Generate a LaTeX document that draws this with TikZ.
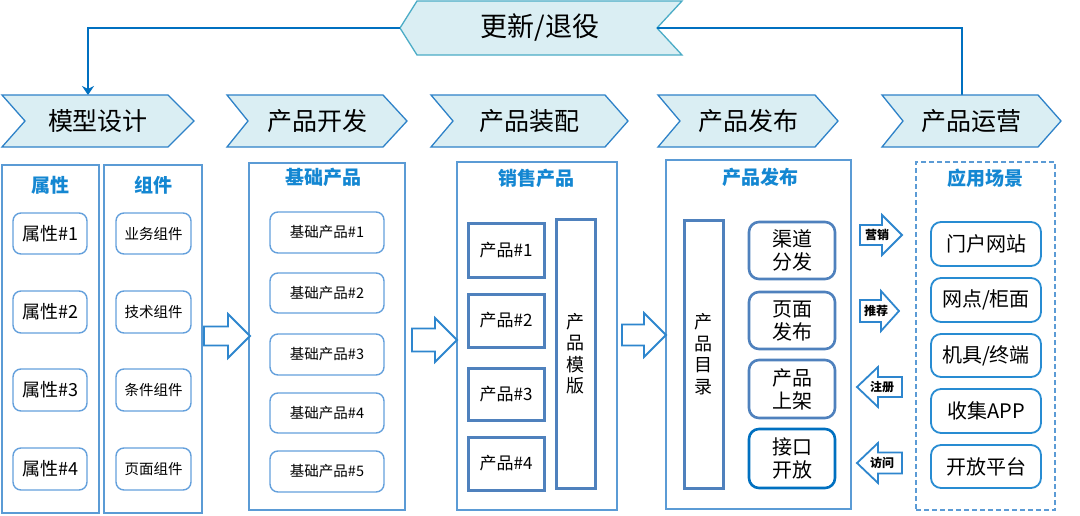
\documentclass[tikz,border=0pt]{standalone}
\usepackage{fontspec}
\setmainfont{Noto Sans CJK SC}
\usetikzlibrary{arrows.meta}
\definecolor{panelc}{RGB}{91,155,213}
\definecolor{itemc}{RGB}{100,160,220}
\definecolor{titlec}{RGB}{20,135,210}
\definecolor{thickc}{RGB}{79,129,189}
\definecolor{darkc}{RGB}{0,112,192}
\definecolor{appc}{RGB}{40,140,210}
\definecolor{chevfill}{RGB}{218,238,243}
\definecolor{chevline}{RGB}{46,130,200}
\definecolor{banline}{RGB}{75,172,198}
\definecolor{loopc}{RGB}{0,112,192}
\definecolor{arrc}{RGB}{46,134,206}
\tikzset{
  panel/.style={draw=panelc, line width=1.5pt, fill=white, inner sep=0pt},
  ttl/.style={text=titlec, font=\fontsize{19}{21}\selectfont\bfseries, inner sep=0pt},
  itembox/.style={draw=itemc, line width=1.4pt, rounded corners=8pt, fill=white, inner sep=0pt},
  thickbox/.style={draw=thickc, line width=3pt, fill=white, inner sep=0pt},
  pubbox/.style={draw=thickc, line width=2.6pt, rounded corners=10pt, fill=white, inner sep=0pt, align=center, font=\fontsize{20}{23}\selectfont},
  appbox/.style={draw=appc, line width=1.8pt, rounded corners=10pt, fill=white, inner sep=0pt, font=\fontsize{20}{22}\selectfont},
  chevst/.style={draw=chevline, line width=1.3pt, fill=chevfill},
  hdtxt/.style={font=\fontsize{25}{27}\selectfont, inner sep=0pt},
  barrow/.style={draw=arrc, line width=1.8pt, fill=white, line join=miter},
  smlbl/.style={font=\fontsize{12}{13}\selectfont\bfseries, inner sep=0pt},
  loopline/.style={draw=loopc, line width=2.6pt},
}
\newcommand\mychev[6]{%
  \draw[chevst] (#2,95) -- (#4,95) -- (#5,121) -- (#4,147) -- (#2,147) -- (#3,121) -- cycle;
  \node[hdtxt] (#1) at ({(#2+#5)/2},121) {#6};}
\newcommand\rarrow[6]{% x0 xs xt yc sh hh
  \draw[barrow] (#1,#4-#5) -- (#2,#4-#5) -- (#2,#4-#6) -- (#3,#4) -- (#2,#4+#6) -- (#2,#4+#5) -- (#1,#4+#5) -- cycle;}
\newcommand\larrow[6]{% xt xs x1 yc sh hh
  \draw[barrow] (#3,#4-#5) -- (#2,#4-#5) -- (#2,#4-#6) -- (#1,#4) -- (#2,#4+#6) -- (#2,#4+#5) -- (#3,#4+#5) -- cycle;}
\begin{document}
\begin{tikzpicture}[x=1pt,y=-1pt]
\useasboundingbox[fill=white] (0,0) rectangle (1080,515);

% feedback banner
\draw[draw=banline, line width=1.3pt, fill=chevfill] (400,28) -- (417,1) -- (682,1) -- (657,28) -- (682,55) -- (417,55) -- cycle;
\node[font=\fontsize{27}{29}\selectfont, inner sep=0pt] (bn) at (540,28) {更新/退役};
\coordinate (bnL) at (400,28);
\coordinate (bnR) at (657,28);
\coordinate (h1top) at (88,95);
\coordinate (h5top) at (962,95);
\draw[loopline, -{Stealth[length=9pt,width=12pt,inset=3pt]}] (bnL) -- (h1top |- bnL) -- (h1top);
\draw[loopline] (bnR) -- (h5top |- bnR) -- (h5top);

% header chevrons
\mychev{h1}{2}{25}{168}{194}{模型设计}
\mychev{h2}{227}{248}{383}{407}{产品开发}
\mychev{h3}{431}{453}{605}{628}{产品装配}
\mychev{h4}{658}{680}{815}{838}{产品发布}
\mychev{h5}{882}{903}{1038}{1061}{产品运营}

% panels
\node[panel, minimum width=97, minimum height=348] (p1) at (50.5,339) {};
\node[panel, minimum width=98, minimum height=348] (p2) at (153,339) {};
\node[panel, minimum width=156, minimum height=347] (p3) at (327,336.5) {};
\node[panel, minimum width=160, minimum height=348] (p4) at (537,336) {};
\node[panel, minimum width=185, minimum height=349] (p5) at (758.5,334.5) {};
\node[panel, dashed, dash pattern=on 5pt off 3pt, minimum width=139, minimum height=348] (p6) at (985.5,336) {};

\node[ttl] (t1) at (50,185) {属性};
\node[ttl] (t2) at (153,185) {组件};
\node[ttl] (t3) at (323,177) {基础产品};
\node[ttl] (t4) at (536,178) {销售产品};
\node[ttl] (t5) at (760,177) {产品发布};
\node[ttl] (t6) at (985,178) {应用场景};

% attributes
\begin{scope}[every node/.append style={font=\fontsize{18}{20}\selectfont}]
\node[itembox, minimum width=74, minimum height=41] (a1) at (50,233.5) {属性\#1};
\node[itembox, minimum width=74, minimum height=42] (a2) at (50,312) {属性\#2};
\node[itembox, minimum width=74, minimum height=42] (a3) at (50,390) {属性\#3};
\node[itembox, minimum width=74, minimum height=42] (a4) at (50,469) {属性\#4};
\end{scope}
\begin{scope}[every node/.append style={font=\fontsize{14.5}{16}\selectfont}]
\node[itembox, minimum width=75, minimum height=41] (c1) at (153.5,233.5) {业务组件};
\node[itembox, minimum width=75, minimum height=42] (c2) at (153.5,312) {技术组件};
\node[itembox, minimum width=75, minimum height=42] (c3) at (153.5,390) {条件组件};
\node[itembox, minimum width=75, minimum height=42] (c4) at (153.5,469) {页面组件};
\end{scope}

% base products
\begin{scope}[every node/.append style={font=\fontsize{14.5}{16}\selectfont}]
\node[itembox, minimum width=114, minimum height=41] (b1) at (327,232.5) {基础产品\#1};
\node[itembox, minimum width=114, minimum height=40] (b2) at (327,293) {基础产品\#2};
\node[itembox, minimum width=114, minimum height=41] (b3) at (327,354.5) {基础产品\#3};
\node[itembox, minimum width=114, minimum height=40] (b4) at (327,413) {基础产品\#4};
\node[itembox, minimum width=114, minimum height=41] (b5) at (327,471.5) {基础产品\#5};
\end{scope}

% sales products
\begin{scope}[every node/.append style={font=\fontsize{17}{19}\selectfont}]
\node[thickbox, minimum width=76, minimum height=54] (s1) at (506,250) {产品\#1};
\node[thickbox, minimum width=76, minimum height=53] (s2) at (506,320.5) {产品\#2};
\node[thickbox, minimum width=76, minimum height=52] (s3) at (506,394) {产品\#3};
\node[thickbox, minimum width=76, minimum height=53] (s4) at (506,463.5) {产品\#4};
\end{scope}
\node[thickbox, minimum width=39, minimum height=269, align=center, font=\fontsize{18}{21.5}\selectfont] (tpl) at (575.5,353.5) {产\\品\\模\\版};

% publish
\node[thickbox, minimum width=39, minimum height=268, align=center, font=\fontsize{18}{21.5}\selectfont] (cat) at (703.5,354) {产\\品\\目\\录};
\node[pubbox, minimum width=86, minimum height=57] (q1) at (792,250.5) {渠道\\分发};
\node[pubbox, minimum width=86, minimum height=57] (q2) at (792,320.5) {页面\\发布};
\node[pubbox, minimum width=86, minimum height=58] (q3) at (792,389) {产品\\上架};
\node[pubbox, draw=darkc, minimum width=86, minimum height=59] (q4) at (792,458.5) {接口\\开放};

% application scenarios
\node[appbox, minimum width=110, minimum height=44] (u1) at (986,244) {门户网站};
\node[appbox, minimum width=110, minimum height=44] (u2) at (986,300) {网点/柜面};
\node[appbox, minimum width=110, minimum height=43] (u3) at (986,355.5) {机具/终端};
\node[appbox, minimum width=110, minimum height=44] (u4) at (986,411) {收集APP};
\node[appbox, minimum width=110, minimum height=43] (u5) at (986,466.5) {开放平台};

% big flow arrows
\rarrow{204}{228}{250}{336}{9.5}{22}
\rarrow{412}{435}{457}{340}{11.5}{22}
\rarrow{622}{644}{666}{335}{10.5}{22}

% small arrows
\rarrow{860}{882}{902}{235}{10}{20}
\node[smlbl] (m1) at (877,235) {营销};
\rarrow{860}{881}{899}{311}{11}{20}
\node[smlbl] (m2) at (876,311) {推荐};
\larrow{857}{878}{902}{387}{10}{20}
\node[smlbl] (m3) at (882,387) {注册};
\larrow{857}{878}{902}{463}{10.5}{20}
\node[smlbl] (m4) at (882,463) {访问};
\end{tikzpicture}
\end{document}
